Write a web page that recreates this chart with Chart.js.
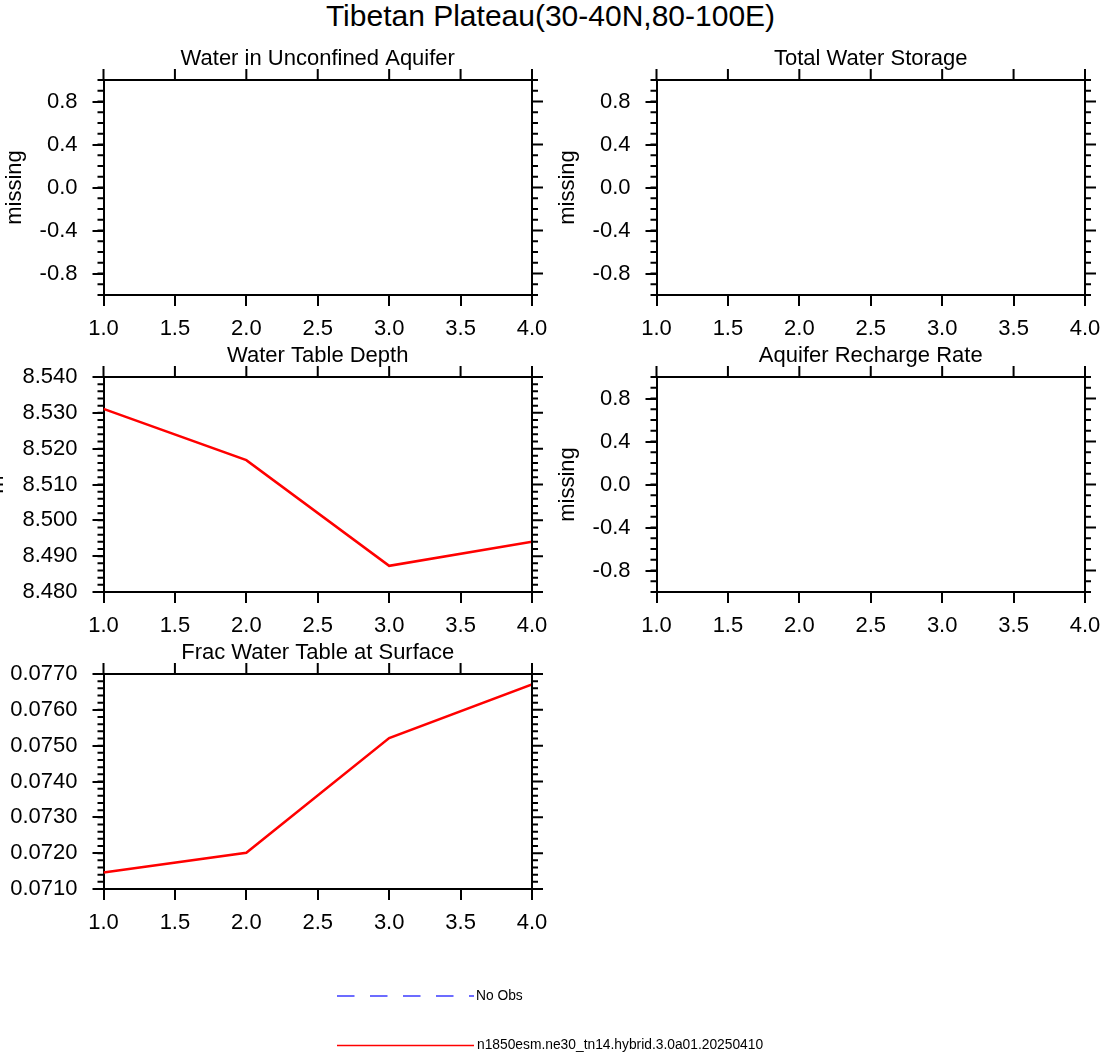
<!DOCTYPE html>
<html>
<head>
<meta charset="utf-8">
<script src="https://cdn.jsdelivr.net/npm/chart.js@4.4.1/dist/chart.umd.min.js"></script>
<style>
  body {
    margin: 0;
    background: #fff;
    width: 1101px;
    height: 1053px;
    overflow: hidden;
    position: relative;
    font-family: "Liberation Sans", Arial, sans-serif;
  }
  #title {
    position: absolute;
    left: 0;
    top: -1px;
    width: 1101px;
    text-align: center;
    font-size: 30px;
    line-height: 34px;
  }
  canvas { position: absolute; }
  .leg { position: absolute; font-size: 13.8px; line-height: 16px; white-space: nowrap; }
</style>
</head>
<body>
<div id="title">Tibetan Plateau(30-40N,80-100E)</div>
<canvas id="p0" width="578" height="315"></canvas>
<canvas id="p1" width="578" height="315"></canvas>
<canvas id="p2" width="578" height="315"></canvas>
<canvas id="p3" width="578" height="315"></canvas>
<canvas id="p4" width="578" height="315"></canvas>
<svg style="position:absolute;left:0;top:0" width="1101" height="1053">
  <line x1="337" y1="996" x2="474" y2="996" stroke="#3c3cff" stroke-width="1.6" stroke-dasharray="17.5 15.5"/>
  <line x1="337" y1="1045.5" x2="474" y2="1045.5" stroke="#ff0000" stroke-width="1.6"/>
</svg>
<div class="leg" id="leg0" style="left:476px;top:988px"></div>
<div class="leg" id="leg1" style="left:477px;top:1036.5px"></div>
<script>
const years = [1, 2, 3, 4];
const xTicks = [1.0, 1.5, 2.0, 2.5, 3.0, 3.5, 4.0];
const missingTicks = [-0.8, -0.4, 0.0, 0.4, 0.8];
const wtdTicks = [8.48, 8.49, 8.5, 8.51, 8.52, 8.53, 8.54];
const fracTicks = [0.071, 0.072, 0.073, 0.074, 0.075, 0.076, 0.077];
const wtdValues = [8.5311, 8.5168, 8.4873, 8.494];
const fracValues = [0.07146, 0.07201, 0.07521, 0.07671];
const obsLabel = "No Obs";
const caseName = "n1850esm.ne30_tn14.hybrid.3.0a01.20250410";

document.getElementById("leg0").textContent = obsLabel;
document.getElementById("leg1").textContent = caseName;

const FONT = "'Liberation Sans', Arial, sans-serif";
const MAJOR = 11;
const MINOR = 6;

// panel placement: canvas left/top, chart area ends up 133.5px right and 50px down
const panels = [
  { id: "p0", left: -30, top: 29.5, title: "Water in Unconfined Aquifer", yTitle: "missing", yPad: 31.8,
    min: -1, max: 1, ticks: missingTicks, dec: 1, minor: 0.1, values: null },
  { id: "p1", left: 523, top: 29.5, title: "Total Water Storage", yTitle: "missing", yPad: 31.8,
    min: -1, max: 1, ticks: missingTicks, dec: 1, minor: 0.1, values: null },
  { id: "p2", left: -30, top: 327, title: "Water Table Depth", yTitle: "m", yPad: 13.8,
    min: 8.48, max: 8.54, ticks: wtdTicks, dec: 3, minor: 0.002, values: wtdValues },
  { id: "p3", left: 523, top: 327, title: "Aquifer Recharge Rate", yTitle: "missing", yPad: 31.8,
    min: -1, max: 1, ticks: missingTicks, dec: 1, minor: 0.1, values: null },
  { id: "p4", left: -30, top: 623.5, title: "Frac Water Table at Surface", yTitle: "", yPad: 0,
    min: 0.071, max: 0.077, ticks: fracTicks, dec: 4, minor: 0.0002, values: fracValues },
];

// top/right mirror ticks, minor ticks and the closing frame
const frame = {
  id: "frame",
  afterDraw(chart, args, opts) {
    const { ctx, chartArea: a } = chart;
    const x = chart.scales.x, y = chart.scales.y;
    ctx.save();
    ctx.strokeStyle = "#000";
    ctx.lineWidth = 2;
    ctx.beginPath();
    ctx.moveTo(a.left - 1, a.top);
    ctx.lineTo(a.right, a.top);
    ctx.lineTo(a.right, a.bottom + 1);
    xTicks.forEach((v) => {
      const px = x.getPixelForValue(v);
      ctx.moveTo(px, a.top);
      ctx.lineTo(px, a.top - MAJOR);
    });
    opts.ticks.forEach((v) => {
      const py = y.getPixelForValue(v);
      ctx.moveTo(a.right, py);
      ctx.lineTo(a.right + MAJOR, py);
    });
    const n = Math.round((opts.max - opts.min) / opts.minor);
    for (let i = 0; i <= n; i++) {
      const py = y.getPixelForValue(opts.min + i * opts.minor);
      ctx.moveTo(a.left, py);
      ctx.lineTo(a.left - MINOR, py);
      ctx.moveTo(a.right, py);
      ctx.lineTo(a.right + MINOR, py);
    }
    ctx.stroke();
    ctx.restore();
  },
};

panels.forEach((p) => {
  const cv = document.getElementById(p.id);
  cv.style.left = p.left + "px";
  cv.style.top = p.top + "px";
  const datasets = p.values
    ? [{
        data: years.map((yr, i) => ({ x: yr, y: p.values[i] })),
        borderColor: "#ff0000",
        borderWidth: 2.5,
        pointRadius: 0,
        tension: 0,
        fill: false,
      }]
    : [];
  new Chart(cv, {
    type: "line",
    data: { datasets },
    options: {
      responsive: false,
      animation: false,
      events: [],
      layout: { padding: { top: 15.6, right: 16, bottom: 0, left: 0 } },
      plugins: {
        legend: { display: false },
        tooltip: { enabled: false },
        title: {
          display: true,
          fullSize: false,
          text: p.title,
          color: "#000",
          font: { family: FONT, size: 22, weight: "normal" },
          padding: { top: 0, bottom: 8 },
        },
        frame: { ticks: p.ticks, min: p.min, max: p.max, minor: p.minor },
      },
      scales: {
        x: {
          type: "linear",
          min: 1,
          max: 4,
          afterBuildTicks: (s) => { s.ticks = xTicks.map((v) => ({ value: v })); },
          afterFit: (s) => { s.height = 50; s.paddingLeft = 0; s.paddingRight = 0; },
          ticks: {
            color: "#000",
            font: { family: FONT, size: 22 },
            padding: 10,
            maxRotation: 0,
            autoSkip: false,
            callback: (v) => Number(v).toFixed(1),
          },
          grid: { display: true, drawOnChartArea: false, drawTicks: true, tickLength: MAJOR, color: "#000", lineWidth: 2 },
          border: { display: true, color: "#000", width: 2 },
        },
        y: {
          type: "linear",
          min: p.min,
          max: p.max,
          afterBuildTicks: (s) => { s.ticks = p.ticks.map((v) => ({ value: v })); },
          afterFit: (s) => { s.width = 133.5; },
          ticks: {
            color: "#000",
            font: { family: FONT, size: 22 },
            padding: 15,
            autoSkip: false,
            callback: (v) => Number(v).toFixed(p.dec),
          },
          title: {
            display: p.yTitle !== "",
            text: p.yTitle,
            color: "#000",
            font: { family: FONT, size: 22 },
            padding: { top: p.yPad, bottom: 0 },
          },
          grid: { display: true, drawOnChartArea: false, drawTicks: true, tickLength: MAJOR, color: "#000", lineWidth: 2 },
          border: { display: true, color: "#000", width: 2 },
        },
      },
    },
    plugins: [frame],
  });
});
</script>
</body>
</html>
